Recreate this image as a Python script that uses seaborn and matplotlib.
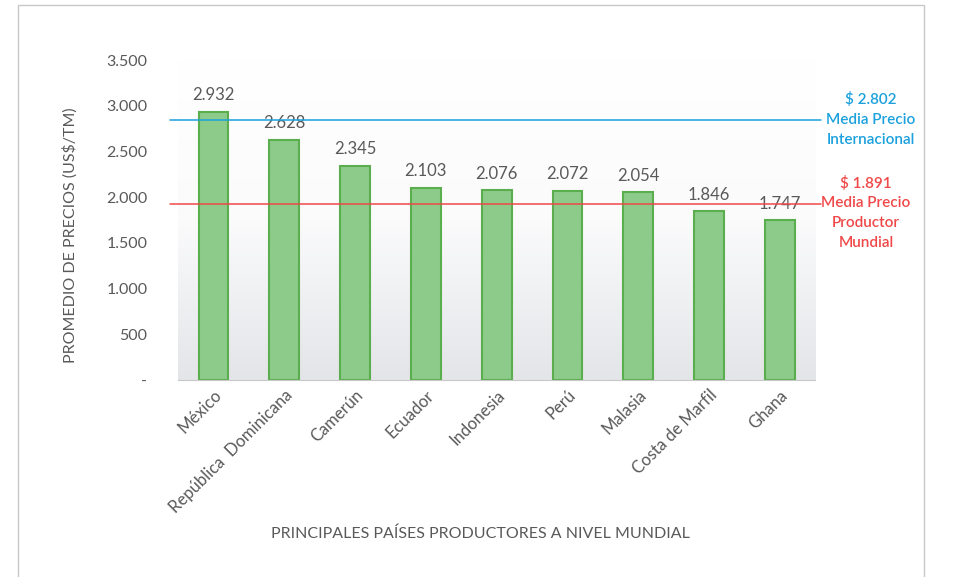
import numpy as np
import pandas as pd
import seaborn as sns
import matplotlib.pyplot as plt
from matplotlib.patches import Rectangle

# ----------------------------
# Data
# ----------------------------
paises = ["México", "República  Dominicana", "Camerún", "Ecuador", "Indonesia",
          "Perú", "Malasia", "Costa de Marfil", "Ghana"]
precios = [2932, 2628, 2345, 2103, 2076, 2072, 2054, 1846, 1747]

# lines as drawn in the picture, and the labels printed beside them
media_internacional = 2840
media_productor = 1925
etiqueta_internacional = ["$ 2.802", "Media Precio", "Internacional"]
etiqueta_productor = ["$ 1.891", "Media Precio", "Productor", "Mundial"]

y_ticks = [0, 500, 1000, 1500, 2000, 2500, 3000, 3500]

df = pd.DataFrame({"Pais": paises, "Precio": precios})

sns.set_style("white")
plt.rcParams["font.family"] = ["Lato", "DejaVu Sans"]

gris = "#595959"
azul = "#1BA1DD"
rojo = "#F04848"

fig = plt.figure(figsize=(9.54, 5.77), dpi=100)
ax = fig.add_axes([0.1866, 0.3414, 0.668, 0.5546])

# gradient background of the plot area
grad = np.linspace(0, 1, 256).reshape(-1, 1)
ax.imshow(grad, extent=[0, 1, 0, 1], transform=ax.transAxes, aspect="auto",
          cmap=sns.blend_palette(["#E3E5E8", "#FBFBFC", "#FFFFFF"], as_cmap=True),
          origin="lower", zorder=0)

sns.barplot(data=df, x="Pais", y="Precio", color="#8DCB8A", saturation=1,
            edgecolor="#5AAE4E", linewidth=1.5, width=0.42, ax=ax, zorder=2)

for i, v in enumerate(precios):
    ax.text(i, v + 95, f"{v:,}".replace(",", "."), ha="center", va="bottom",
            fontsize=12, color=gris)

ax.set_xlim(-0.5, len(paises) - 0.5)
ax.set_ylim(0, 3500)
ax.set_yticks(y_ticks)
ax.set_yticklabels(["-"] + [f"{t:,}".replace(",", ".") for t in y_ticks[1:]])
ax.tick_params(axis="y", length=0, pad=22, labelsize=11.5, labelcolor=gris)
ax.tick_params(axis="x", length=0, pad=5)
ax.set_xticks(range(len(paises)))
ax.set_xticklabels(paises, rotation=45, ha="right", rotation_mode="anchor",
                   fontsize=12, color=gris)
ax.set_xlabel("")
ax.set_ylabel("")
for s in ["top", "right", "left"]:
    ax.spines[s].set_visible(False)
ax.spines["bottom"].set_color("#C8C8C8")

# mean lines, running a little past the plot area
ax.plot([-0.62, 8.58], [media_internacional] * 2, color=azul, lw=1.1,
        clip_on=False, zorder=3)
ax.plot([-0.62, 8.58], [media_productor] * 2, color=rojo, lw=1.1,
        clip_on=False, zorder=3)

for k, t in enumerate(etiqueta_internacional):
    fig.text(871 / 954, 1 - (100 + 20 * k) / 577, t, ha="center", va="center",
             fontsize=11, color=azul, fontweight="semibold")
for k, t in enumerate(etiqueta_productor):
    fig.text(866 / 954, 1 - (183 + 20 * k) / 577, t, ha="center", va="center",
             fontsize=11, color=rojo, fontweight="semibold")

fig.text(70 / 954, 1 - 235 / 577, "PROMEDIO DE PRECIOS (US$/TM)", rotation=90,
         ha="center", va="center", fontsize=11.5, color=gris)
fig.text(480 / 954, 1 - 534 / 577, "PRINCIPALES PAÍSES PRODUCTORES A NIVEL MUNDIAL",
         ha="center", va="center", fontsize=11.5, color=gris)

# outer frame
fig.patches.append(Rectangle((18 / 954, -0.1), 0.95, 1.1 - 5 / 577,
                             transform=fig.transFigure, fill=False,
                             edgecolor="#C8C8C8", lw=1))

fig.savefig("out.png", dpi=100)
plt.close()
